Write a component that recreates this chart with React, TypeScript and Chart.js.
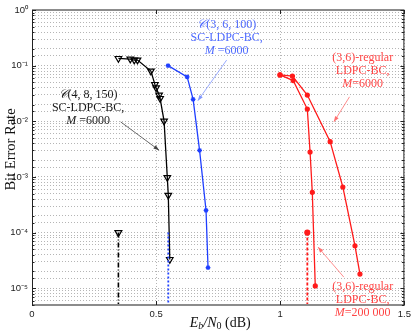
import React, { useEffect, useRef } from 'react';
import { Chart, registerables } from 'chart.js';
Chart.register(...registerables);

// ---- data ----
const sc48X = [0.348, 0.396, 0.412, 0.425, 0.479, 0.495, 0.5, 0.512, 0.516, 0.532, 0.545, 0.549, 0.555];
const sc48Y = [0.135, 0.131, 0.126, 0.126, 0.08, 0.046, 0.04, 0.0296, 0.0258, 0.0101, 9.8e-4, 4.7e-4, 3.3e-5];
const sc36X = [0.548, 0.625, 0.649, 0.675, 0.701, 0.709];
const sc36Y = [0.1, 0.063, 0.0248, 0.003, 2.5e-4, 2.35e-5];
const bcBigX = [0.999, 1.052, 1.109, 1.12, 1.129, 1.141];
const bcBigY = [0.068, 0.054, 0.0166, 0.0028, 5.3e-4, 1.1e-5];
const bc6kX = [0.999, 1.049, 1.109, 1.201, 1.252, 1.301, 1.321];
const bc6kY = [0.068, 0.065, 0.0296, 0.0043, 6.6e-4, 5.8e-5, 1.8e-5];
// thresholds: [x, top BER]
const thrBlack = [0.348, 1e-4];
const thrBlue = [0.549, 1e-4];
const thrRed = [1.109, 1e-4];
const xTicks = [0, 0.5, 1, 1.5];
const yMin = 5e-6;
const yMax = 1;

const SUP: Record<string, string> = { '0': '⁰', '1': '¹', '2': '²', '3': '³', '4': '⁴', '5': '⁵', '6': '⁶', '7': '⁷', '8': '⁸', '9': '⁹', '-': '⁻' };
const sup = (s: string) => s.split('').map((c) => SUP[c] || c).join('');

const pts = (xs: number[], ys: number[]) => xs.map((x, i) => ({ x, y: ys[i] }));

type Seg = { t: string; it?: boolean };
type Ann = { x: number; ly: number; color: string; arrowColor: string; lines: Seg[][]; from: [number, number]; to: [number, number] };

const annotations: Ann[] = [
  {
    x: 0.226, ly: -1.53, color: '#1a1a1a', arrowColor: '#444',
    lines: [[{ t: '𝒞', it: true }, { t: '(4, 8, 150)' }], [{ t: 'SC-LDPC-BC,' }], [{ t: 'M', it: true }, { t: ' =6000' }]],
    from: [0.357, -2.01], to: [0.512, -2.52],
  },
  {
    x: 0.784, ly: -0.27, color: '#4f6bff', arrowColor: '#7f95ff',
    lines: [[{ t: '𝒞', it: true }, { t: '(3, 6, 100)' }], [{ t: 'SC-LDPC-BC,' }], [{ t: 'M', it: true }, { t: ' =6000' }]],
    from: [0.784, -0.9], to: [0.668, -1.63],
  },
  {
    x: 1.332, ly: -0.863, color: '#ff4545', arrowColor: '#ff7070',
    lines: [[{ t: '(3,6)-regular' }], [{ t: 'LDPC-BC,' }], [{ t: 'M', it: true }, { t: '=6000' }]],
    from: [1.279, -1.56], to: [1.216, -2.01],
  },
  {
    x: 1.332, ly: -4.98, color: '#ff4545', arrowColor: '#ff7070',
    lines: [[{ t: '(3,6)-regular' }], [{ t: 'LDPC-BC,' }], [{ t: 'M', it: true }, { t: '=200 000' }]],
    from: [1.256, -4.8], to: [1.152, -4.26],
  },
];

const SERIF = "'Liberation Serif', 'DejaVu Serif', serif";
const SANS = "'Liberation Sans', Arial, sans-serif";

const decorPlugin = {
  id: 'decor',
  afterDatasetsDraw(chart: any) {
    const ctx = chart.ctx as CanvasRenderingContext2D;
    const xs = chart.scales.x;
    const ys = chart.scales.y;
    const ca = chart.chartArea;
    ctx.save();
    // box
    ctx.lineWidth = 2;
    ctx.strokeStyle = '#8c8c8c';
    ctx.beginPath();
    ctx.moveTo(ca.left, ca.top); ctx.lineTo(ca.right, ca.top);
    ctx.moveTo(ca.left, ca.bottom); ctx.lineTo(ca.right, ca.bottom);
    ctx.stroke();
    ctx.lineWidth = 1;
    ctx.strokeStyle = '#222';
    ctx.beginPath();
    ctx.moveTo(ca.left + 0.5, ca.top); ctx.lineTo(ca.left + 0.5, ca.bottom);
    ctx.moveTo(ca.right - 0.5, ca.top); ctx.lineTo(ca.right - 0.5, ca.bottom);
    ctx.stroke();
    // inner ticks
    ctx.beginPath();
    ys.ticks.forEach((t: any) => {
      const p = Math.round(ys.getPixelForValue(t.value)) + 0.5;
      const l = Math.log10(t.value);
      const len = Math.abs(l - Math.round(l)) < 1e-9 ? 4 : 2.5;
      ctx.moveTo(ca.left, p); ctx.lineTo(ca.left + len, p);
      ctx.moveTo(ca.right, p); ctx.lineTo(ca.right - len, p);
    });
    xs.ticks.forEach((t: any) => {
      const p = Math.round(xs.getPixelForValue(t.value)) + 0.5;
      ctx.moveTo(p, ca.bottom); ctx.lineTo(p, ca.bottom - 4);
      ctx.moveTo(p, ca.top); ctx.lineTo(p, ca.top + 4);
    });
    ctx.stroke();

    // annotations
    const lh = 13;
    annotations.forEach((a) => {
      const cx = xs.getPixelForValue(a.x);
      const cy = ys.getPixelForValue(Math.pow(10, a.ly));
      ctx.fillStyle = a.color;
      ctx.textBaseline = 'middle';
      ctx.textAlign = 'left';
      a.lines.forEach((line, i) => {
        const fonts = line.map((s) => (s.it ? 'italic ' : '') + '12px ' + SERIF);
        let w = 0;
        line.forEach((s, k) => { ctx.font = fonts[k]; w += ctx.measureText(s.t).width; });
        let x0 = cx - w / 2;
        line.forEach((s, k) => {
          ctx.font = fonts[k];
          ctx.fillText(s.t, x0, cy + i * lh);
          x0 += ctx.measureText(s.t).width;
        });
      });
      // arrow
      const x1 = xs.getPixelForValue(a.from[0]);
      const y1 = ys.getPixelForValue(Math.pow(10, a.from[1]));
      const x2 = xs.getPixelForValue(a.to[0]);
      const y2 = ys.getPixelForValue(Math.pow(10, a.to[1]));
      ctx.strokeStyle = a.arrowColor;
      ctx.fillStyle = a.arrowColor;
      ctx.lineWidth = 0.8;
      ctx.beginPath(); ctx.moveTo(x1, y1); ctx.lineTo(x2, y2); ctx.stroke();
      const ang = Math.atan2(y2 - y1, x2 - x1);
      const hl = 6, hw = 0.35;
      ctx.beginPath();
      ctx.moveTo(x2, y2);
      ctx.lineTo(x2 - hl * Math.cos(ang - hw), y2 - hl * Math.sin(ang - hw));
      ctx.lineTo(x2 - hl * Math.cos(ang + hw), y2 - hl * Math.sin(ang + hw));
      ctx.closePath();
      ctx.fill();
    });

    // axis titles
    ctx.fillStyle = '#111';
    ctx.textBaseline = 'middle';
    ctx.save();
    ctx.translate(11, (ca.top + ca.bottom) / 2 - 8);
    ctx.rotate(-Math.PI / 2);
    ctx.textAlign = 'center';
    ctx.font = '14.5px ' + SERIF;
    ctx.fillText('Bit Error Rate', 0, 0);
    ctx.restore();

    const segs: { t: string; f: string; dy: number }[] = [
      { t: 'E', f: 'italic 14px ' + SERIF, dy: 0 },
      { t: 'b', f: 'italic 10px ' + SERIF, dy: 3 },
      { t: '/N', f: 'italic 14px ' + SERIF, dy: 0 },
      { t: '0', f: '10px ' + SERIF, dy: 3 },
      { t: ' (dB)', f: '14px ' + SERIF, dy: 0 },
    ];
    let tw = 0;
    segs.forEach((s) => { ctx.font = s.f; tw += ctx.measureText(s.t).width; });
    let tx = (ca.left + ca.right) / 2 + 2 - tw / 2;
    const ty = ca.bottom + 18;
    ctx.textAlign = 'left';
    segs.forEach((s) => {
      ctx.font = s.f;
      ctx.fillText(s.t, tx, ty + s.dy);
      tx += ctx.measureText(s.t).width;
    });
    ctx.restore();
  },
};

export default function App() {
  const ref = useRef<HTMLCanvasElement | null>(null);
  useEffect(() => {
    document.body.style.margin = '0';
    const canvas = ref.current!;
    const line = (xs: number[], ys: number[], color: string, style: any, radius: number, rot = 0, fill = 'transparent', extra: any = {}) => ({
      data: pts(xs, ys),
      showLine: true,
      borderColor: color,
      backgroundColor: fill,
      pointBorderColor: color,
      pointBackgroundColor: fill,
      pointStyle: style,
      pointRadius: radius,
      pointRotation: rot,
      pointBorderWidth: 1.2,
      borderWidth: 1.3,
      tension: 0,
      ...extra,
    });
    const chart = new Chart(canvas, {
      type: 'scatter',
      data: {
        datasets: [
          line([thrBlack[0], thrBlack[0]], [thrBlack[1], yMin], '#000', ['triangle', false], 4, 180, 'transparent', { borderDash: [5, 2, 1, 2], borderWidth: 1.6, pointRadius: [4, 0] }),
          line([thrBlue[0], thrBlue[0]], [thrBlue[1], yMin], '#2244ff', false, 0, 0, 'transparent', { borderDash: [2, 2], borderWidth: 1.8 }),
          line([thrRed[0], thrRed[0]], [thrRed[1], yMin], '#ff1a1a', 'circle', 2.5, 0, '#ff1a1a', { borderDash: [3, 2], borderWidth: 1.8, pointRadius: [2.5, 0] }),
          line(sc48X, sc48Y, '#000', 'triangle', 3.8, 180, 'transparent'),
          line(sc36X, sc36Y, '#1f3fff', 'star', 2.4, 0, 'transparent'),
          line(bcBigX, bcBigY, '#ff1a1a', 'circle', 2, 0, '#ff1a1a'),
          line(bc6kX, bc6kY, '#ff1a1a', 'circle', 2, 0, '#ff1a1a'),
        ],
      },
      options: {
        responsive: false,
        animation: false,
        devicePixelRatio: 1,
        layout: { padding: { top: 10, right: 8, left: 0, bottom: 0 } },
        plugins: { legend: { display: false }, tooltip: { enabled: false } },
        scales: {
          x: {
            type: 'linear',
            min: 0,
            max: 1.5,
            afterBuildTicks: (s: any) => { s.ticks = xTicks.map((v) => ({ value: v })); },
            afterFit: (s: any) => { s.height = 27; },
            ticks: {
              autoSkip: false,
              maxRotation: 0,
              padding: 4,
              color: '#222',
              font: { family: SANS, size: 9.5 },
              callback: (v: any) => String(v),
            },
            grid: { color: '#b5b5b5', lineWidth: 1, drawTicks: false },
            border: { display: false, dash: [1, 2] },
          },
          y: {
            type: 'logarithmic',
            min: yMin,
            max: yMax,
            afterFit: (s: any) => { s.width = 32; },
            ticks: {
              autoSkip: false,
              padding: 4,
              color: '#222',
              font: { family: SANS, size: 9.5 },
              callback: (v: any) => {
                const l = Math.log10(Number(v));
                if (Math.abs(l - Math.round(l)) < 1e-9) return '10' + sup(String(Math.round(l)));
                return '';
              },
            },
            grid: { color: '#b5b5b5', lineWidth: 1, drawTicks: false },
            border: { display: false, dash: [1, 2] },
          },
        },
      },
      plugins: [decorPlugin],
    } as any);
    return () => chart.destroy();
  }, []);
  return <canvas ref={ref} width={415} height={332} style={{ display: 'block' }} />;
}
